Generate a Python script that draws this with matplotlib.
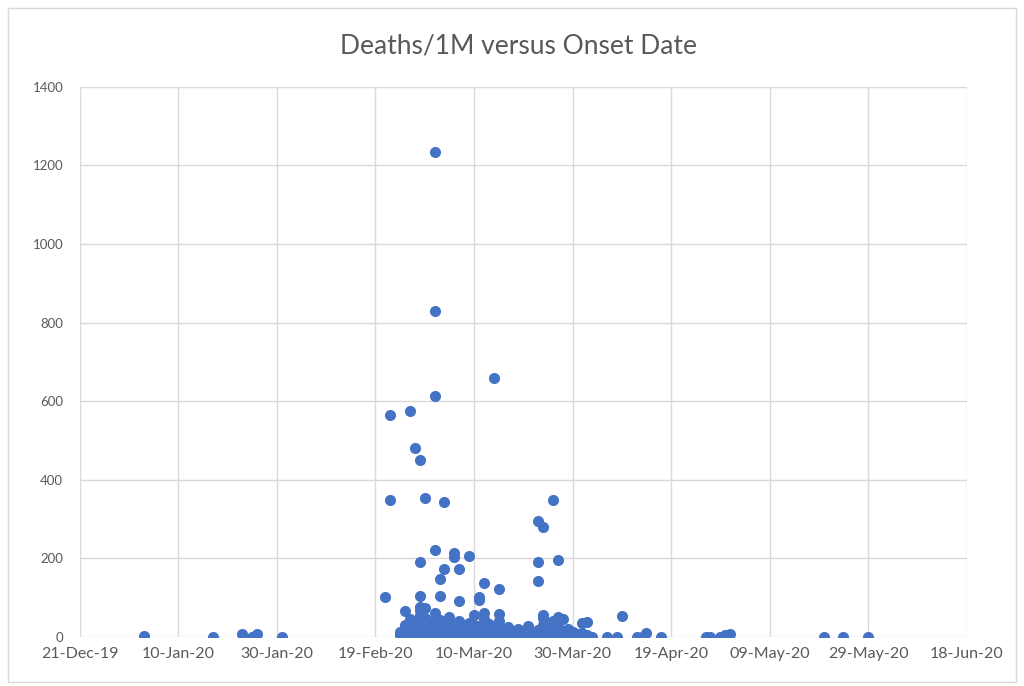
import datetime as dt
import matplotlib
matplotlib.use("Agg")
import matplotlib.pyplot as plt
import matplotlib.dates as mdates
from matplotlib.patches import Rectangle

# ----------------------
# Dados
# ----------------------

# casos iniciais
datas_inicio = ["2020-01-03", "2020-01-17", "2020-01-23", "2020-01-25", "2020-01-26", "2020-01-31"]
mortes_inicio = [2, 0, 8, 1, 8, 0]

# valores altos
datas_altos = ["2020-03-02", "2020-03-02", "2020-03-02", "2020-03-02",
               "2020-02-22", "2020-02-22", "2020-02-21",
               "2020-02-26", "2020-02-27",
               "2020-02-28", "2020-02-28", "2020-02-28", "2020-02-28",
               "2020-02-29", "2020-03-04", "2020-03-04",
               "2020-03-03", "2020-03-03",
               "2020-03-06", "2020-03-06", "2020-03-07", "2020-03-07",
               "2020-03-09", "2020-03-11", "2020-03-11", "2020-03-12",
               "2020-03-14", "2020-03-15",
               "2020-03-23", "2020-03-23", "2020-03-23",
               "2020-03-24", "2020-03-24", "2020-03-24",
               "2020-03-26", "2020-03-27", "2020-03-27", "2020-04-01",
               "2020-02-25", "2020-02-25", "2020-02-26",
               "2020-03-02", "2020-03-10", "2020-02-28", "2020-02-29",
               "2020-03-12", "2020-03-15", "2020-04-02"]
mortes_altos = [1234, 830, 613, 221,
                565, 349, 103,
                576, 482,
                450, 192, 104, 70,
                353, 344, 172,
                147, 104,
                213, 204, 172, 92,
                206, 101, 94, 137,
                658, 122,
                296, 192, 143,
                279, 55, 48,
                349, 196, 50, 35,
                67, 26, 16,
                61, 56, 77, 73,
                60, 58, 39]

# aglomerado junto ao zero
datas_baixos = ["2020-02-24", "2020-02-24",
                "2020-02-25", "2020-02-25", "2020-02-25",
                "2020-02-26", "2020-02-26", "2020-02-26",
                "2020-02-27", "2020-02-27", "2020-02-27", "2020-02-27",
                "2020-02-28", "2020-02-28", "2020-02-28", "2020-02-28", "2020-02-28",
                "2020-02-29", "2020-02-29", "2020-02-29", "2020-02-29",
                "2020-03-01", "2020-03-01", "2020-03-01", "2020-03-01",
                "2020-03-02", "2020-03-02", "2020-03-02", "2020-03-02",
                "2020-03-03", "2020-03-03", "2020-03-03", "2020-03-03",
                "2020-03-04", "2020-03-04", "2020-03-04",
                "2020-03-05", "2020-03-05", "2020-03-05", "2020-03-05",
                "2020-03-06", "2020-03-06", "2020-03-06",
                "2020-03-07", "2020-03-07", "2020-03-07",
                "2020-03-08", "2020-03-08", "2020-03-08",
                "2020-03-09", "2020-03-09", "2020-03-09", "2020-03-09",
                "2020-03-10", "2020-03-10", "2020-03-10",
                "2020-03-11", "2020-03-11", "2020-03-11",
                "2020-03-12", "2020-03-12", "2020-03-12", "2020-03-12",
                "2020-03-13", "2020-03-13", "2020-03-13",
                "2020-03-14", "2020-03-14", "2020-03-14",
                "2020-03-15", "2020-03-15", "2020-03-15",
                "2020-03-16", "2020-03-16", "2020-03-16",
                "2020-03-17", "2020-03-17", "2020-03-17",
                "2020-03-18", "2020-03-18", "2020-03-18",
                "2020-03-19", "2020-03-19", "2020-03-19",
                "2020-03-20", "2020-03-20",
                "2020-03-21", "2020-03-21", "2020-03-21",
                "2020-03-22", "2020-03-22",
                "2020-03-23", "2020-03-23", "2020-03-23",
                "2020-03-24", "2020-03-24", "2020-03-24",
                "2020-03-25", "2020-03-25", "2020-03-25",
                "2020-03-26", "2020-03-26", "2020-03-26",
                "2020-03-27", "2020-03-27", "2020-03-27",
                "2020-03-28", "2020-03-28", "2020-03-28",
                "2020-03-29", "2020-03-29",
                "2020-03-30", "2020-03-30",
                "2020-03-31", "2020-03-31",
                "2020-04-01", "2020-04-01",
                "2020-04-02", "2020-04-03"]
mortes_baixos = [12, 5,
                 30, 8, 3,
                 20, 2, 45,
                 40, 10, 1, 25,
                 55, 33, 15, 4, 0,
                 48, 22, 7, 1,
                 38, 14, 3, 0,
                 28, 9, 2, 45,
                 44, 18, 5, 0,
                 35, 12, 2,
                 52, 25, 8, 1,
                 30, 6, 0,
                 42, 16, 3,
                 24, 9, 1,
                 36, 12, 2, 0,
                 20, 5, 30,
                 28, 10, 1,
                 45, 15, 3, 0,
                 32, 8, 2,
                 22, 6, 0,
                 40, 12, 1,
                 18, 5, 0,
                 26, 10, 2,
                 14, 4, 0,
                 20, 6, 1,
                 12, 3,
                 28, 8, 0,
                 10, 2,
                 18, 5, 0,
                 30, 12, 3,
                 22, 6, 1,
                 40, 14, 2,
                 25, 8, 0,
                 45, 16, 3,
                 20, 5,
                 12, 2,
                 8, 0,
                 10, 1,
                 4, 0]

# casos tardios
datas_tardios = ["2020-04-06", "2020-04-08", "2020-04-09", "2020-04-12", "2020-04-13",
                 "2020-04-14", "2020-04-17", "2020-04-26", "2020-04-27", "2020-04-29",
                 "2020-04-30", "2020-05-01", "2020-05-20", "2020-05-24", "2020-05-29"]
mortes_tardios = [0, 0, 53, 0, 1, 11, 0, 1, 1, 1, 5, 7, 1, 0, 0]

datas = datas_inicio + datas_altos + datas_baixos + datas_tardios
mortes = mortes_inicio + mortes_altos + mortes_baixos + mortes_tardios
datas = [dt.datetime.strptime(d, "%Y-%m-%d") for d in datas]

# ----------------------
# Gráfico
# ----------------------

plt.rcParams['font.family'] = ['Lato', 'DejaVu Sans']
cinza = '#595959'

fig = plt.figure(figsize=(10.24, 6.86), dpi=100)
ax = fig.add_axes([0.078, 0.0714, 0.866, 0.802])

ax.scatter(datas, mortes, s=64, color='#4472C4', zorder=3, linewidths=0)

inicio = dt.datetime(2019, 12, 21)
fim = dt.datetime(2020, 6, 18)
ticks = [inicio + dt.timedelta(days=20 * i) for i in range(10)]
ax.set_xlim(inicio, fim)
ax.set_xticks(ticks)
ax.xaxis.set_major_formatter(mdates.DateFormatter('%d-%b-%y'))
ax.set_ylim(0, 1400)
ax.set_yticks(range(0, 1401, 200))

ax.grid(True, color='#d9d9d9', linewidth=1)
ax.set_axisbelow(True)
for s in ax.spines.values():
    s.set_visible(False)
ax.tick_params(length=0, colors=cinza)
ax.tick_params(axis='x', labelsize=11.5, pad=7)
ax.tick_params(axis='y', labelsize=9.5, pad=12)

fig.text(0.506, 0.933, 'Deaths/1M versus Onset Date', ha='center', va='center',
         fontsize=19, color=cinza)

fig.patches.append(Rectangle((8 / 1024, 4 / 686), 1008 / 1024, 674 / 686,
                             transform=fig.transFigure, fill=False,
                             edgecolor='#d9d9d9', linewidth=1))

fig.savefig('out.png', dpi=100)
